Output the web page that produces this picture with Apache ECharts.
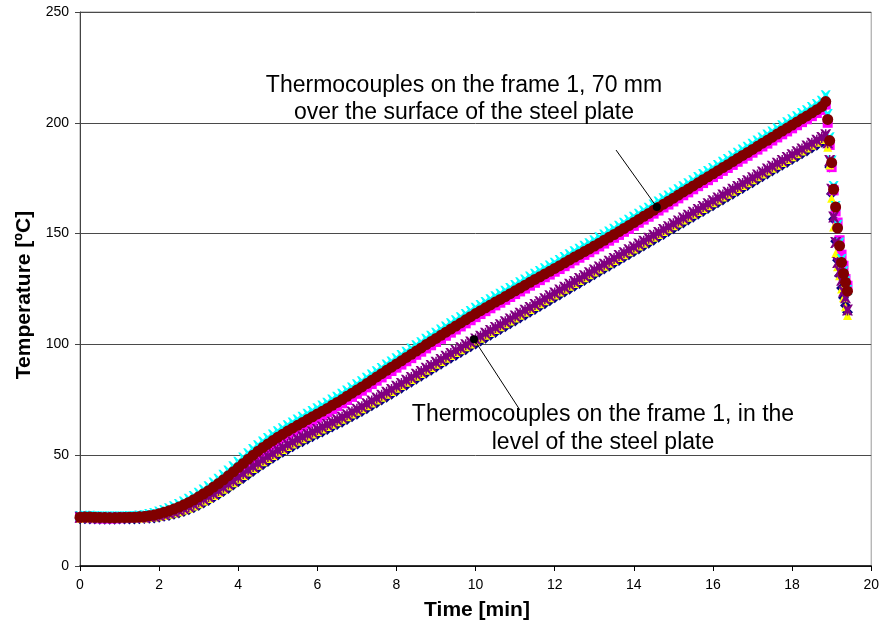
<!DOCTYPE html>
<html>
<head>
<meta charset="utf-8">
<title>Frame 1 thermocouples</title>
<script src="https://cdn.jsdelivr.net/npm/echarts@6/dist/echarts.min.js"></script>
<style>
  html, body { margin: 0; padding: 0; background: #fff; }
  #chart { width: 882px; height: 624px; }
</style>
</head>
<body>
<div id="chart"></div>
<script>
// Sample times [min] of the heating phase (one row per minute) and of the fast cooling at the end
const TIME = [
  0,0.125,0.25,0.375,0.5,0.625,0.75,0.875,
  1,1.125,1.25,1.375,1.5,1.625,1.75,1.875,
  2,2.125,2.25,2.375,2.5,2.625,2.75,2.875,
  3,3.125,3.25,3.375,3.5,3.625,3.75,3.875,
  4,4.125,4.25,4.375,4.5,4.625,4.75,4.875,
  5,5.125,5.25,5.375,5.5,5.625,5.75,5.875,
  6,6.125,6.25,6.375,6.5,6.625,6.75,6.875,
  7,7.125,7.25,7.375,7.5,7.625,7.75,7.875,
  8,8.125,8.25,8.375,8.5,8.625,8.75,8.875,
  9,9.125,9.25,9.375,9.5,9.625,9.75,9.875,
  10,10.125,10.25,10.375,10.5,10.625,10.75,10.875,
  11,11.125,11.25,11.375,11.5,11.625,11.75,11.875,
  12,12.125,12.25,12.375,12.5,12.625,12.75,12.875,
  13,13.125,13.25,13.375,13.5,13.625,13.75,13.875,
  14,14.125,14.25,14.375,14.5,14.625,14.75,14.875,
  15,15.125,15.25,15.375,15.5,15.625,15.75,15.875,
  16,16.125,16.25,16.375,16.5,16.625,16.75,16.875,
  17,17.125,17.25,17.375,17.5,17.625,17.75,17.875,
  18,18.125,18.25,18.375,18.5,18.625,18.75,18.85];
const DROP_TIME = [18.9,18.95,19.0,19.05,19.1,19.15,19.2,19.25,19.3,19.35,19.4];

// Thermocouples on the frame 1, 70 mm over the surface of the steel plate [°C]
const upperSquare = [
  21.7,21.7,21.6,21.6,21.5,21.5,21.5,21.5,
  21.6,21.6,21.7,21.7,21.8,21.9,22.2,22.5,
  23.0,23.5,24.1,24.8,25.6,26.5,27.5,28.6,
  29.8,31.1,32.5,34.0,35.6,37.3,39.0,40.8,
  42.6,44.5,46.3,48.1,49.9,51.6,53.2,54.7,
  56.3,57.8,59.2,60.5,61.8,63.0,64.4,65.6,
  66.9,68.1,69.4,70.8,72.1,73.4,74.9,76.3,
  77.7,79.1,80.6,82.1,83.6,85.1,86.6,88.0,
  89.5,90.9,92.4,93.8,95.3,96.7,98.2,99.6,
  101.1,102.5,103.9,105.3,106.7,108.1,109.5,110.9,
  112.3,113.7,115.0,116.3,117.6,118.8,120.1,121.4,
  122.7,123.9,125.2,126.5,127.8,129.0,130.3,131.5,
  132.8,134.0,135.3,136.6,137.9,139.1,140.4,141.6,
  142.9,144.2,145.5,146.8,148.1,149.4,150.8,152.1,
  153.5,154.9,156.3,157.6,159.0,160.4,161.8,163.1,
  164.5,165.9,167.3,168.6,170.0,171.4,172.8,174.1,
  175.5,176.9,178.3,179.6,181.0,182.4,183.8,185.1,
  186.5,187.9,189.3,190.6,192.0,193.4,194.8,196.1,
  197.5,198.9,200.3,201.6,203.0,204.4,205.8,208.2];
const upperSquareDrop = [200.0,190.0,180.0,169.5,160.0,155.0,147.0,140.5,135.5,129.5,126.5];

const upperCross = [
  22.6,22.7,22.7,22.6,22.5,22.5,22.4,22.4,
  22.5,22.5,22.6,22.6,22.8,23.0,23.5,23.9,
  24.6,25.3,26.1,27.0,28.0,29.1,30.3,31.6,
  33.0,34.5,36.0,37.7,39.4,41.2,43.1,45.0,
  47.0,49.0,50.9,52.8,54.5,56.2,57.8,59.3,
  60.8,62.2,63.5,64.8,66.1,67.3,68.7,69.9,
  71.2,72.4,73.7,75.1,76.4,77.7,79.2,80.6,
  82.0,83.4,84.9,86.4,87.9,89.4,90.9,92.3,
  93.8,95.2,96.7,98.1,99.6,101.0,102.5,103.9,
  105.3,106.7,108.1,109.5,110.9,112.3,113.7,115.1,
  116.5,117.8,119.1,120.4,121.7,122.9,124.2,125.5,
  126.8,128.0,129.3,130.6,131.9,133.1,134.4,135.6,
  136.9,138.1,139.4,140.7,142.0,143.2,144.5,145.7,
  147.0,148.3,149.6,150.9,152.2,153.5,154.9,156.2,
  157.6,159.0,160.4,161.7,163.1,164.5,165.9,167.2,
  168.6,170.0,171.4,172.7,174.1,175.5,176.9,178.2,
  179.6,181.0,182.4,183.7,185.1,186.5,187.9,189.2,
  190.6,192.0,193.4,194.7,196.1,197.5,198.9,200.2,
  201.6,203.0,204.4,205.7,207.1,208.5,209.9,212.4];
const upperCrossDrop = [204.0,193.5,183.0,171.5,162.5,154.0,146.0,138.5,133.0,128.5,124.5];

const upperCircle = [
  22.0,22.1,22.1,22.0,21.9,21.9,21.8,21.8,
  21.9,21.9,22.0,22.0,22.2,22.3,22.7,23.0,
  23.6,24.2,24.9,25.7,26.6,27.6,28.7,29.9,
  31.2,32.6,34.0,35.6,37.2,38.9,40.7,42.5,
  44.4,46.3,48.2,50.0,51.8,53.5,55.1,56.6,
  58.1,59.5,60.9,62.2,63.5,64.7,66.1,67.3,
  68.6,69.8,71.1,72.5,73.8,75.1,76.6,78.0,
  79.4,80.8,82.3,83.8,85.3,86.8,88.3,89.7,
  91.2,92.6,94.1,95.5,97.0,98.4,99.9,101.3,
  102.7,104.1,105.5,106.9,108.3,109.7,111.1,112.5,
  113.9,115.2,116.5,117.8,119.1,120.3,121.6,122.9,
  124.2,125.4,126.7,128.0,129.3,130.5,131.8,133.0,
  134.3,135.5,136.8,138.1,139.4,140.6,141.9,143.1,
  144.4,145.7,147.0,148.3,149.6,150.9,152.3,153.6,
  155.0,156.4,157.8,159.1,160.5,161.9,163.3,164.6,
  166.0,167.4,168.8,170.1,171.5,172.9,174.3,175.6,
  177.0,178.4,179.8,181.1,182.5,183.9,185.3,186.6,
  188.0,189.4,190.8,192.1,193.5,194.9,196.3,197.6,
  199.0,200.4,201.8,203.1,204.5,205.9,207.3,209.6];
const upperCircleDrop = [201.5,192.0,182.0,170.0,162.0,152.5,144.5,137.0,132.0,128.0,124.0];

// Thermocouples on the frame 1, in the level of the steel plate [°C]
const lowerDiamond = [
  21.3,21.3,21.2,21.2,21.1,21.1,21.1,21.1,
  21.2,21.2,21.2,21.2,21.3,21.4,21.5,21.7,
  22.0,22.4,22.8,23.3,23.9,24.6,25.4,26.3,
  27.3,28.4,29.6,30.9,32.2,33.6,35.0,36.5,
  38.0,39.5,41.1,42.7,44.2,45.7,47.2,48.6,
  50.0,51.3,52.6,53.8,55.0,56.1,57.2,58.3,
  59.4,60.5,61.6,62.7,63.8,64.9,66.1,67.3,
  68.5,69.7,71.0,72.3,73.6,74.9,76.2,77.5,
  78.9,80.2,81.6,82.9,84.3,85.6,87.0,88.3,
  89.7,91.0,92.4,93.7,95.0,96.3,97.6,98.9,
  100.2,101.5,102.8,104.1,105.4,106.7,108.0,109.3,
  110.6,111.9,113.2,114.5,115.8,117.1,118.4,119.7,
  121.0,122.3,123.6,124.9,126.2,127.5,128.8,130.1,
  131.4,132.7,134.0,135.3,136.6,137.9,139.2,140.5,
  141.8,143.1,144.4,145.7,147.0,148.3,149.6,150.9,
  152.2,153.5,154.8,156.1,157.4,158.7,160.0,161.3,
  162.6,163.9,165.2,166.5,167.8,169.1,170.4,171.7,
  173.0,174.3,175.6,176.9,178.2,179.5,180.8,182.1,
  183.4,184.7,186.0,187.3,188.6,189.9,191.2,192.4];
const lowerDiamondDrop = [190.0,180.0,168.0,156.5,146.5,138.0,131.0,125.5,121.0,117.5,114.5];

const lowerTriangle = [
  21.6,21.6,21.5,21.5,21.4,21.4,21.4,21.4,
  21.5,21.5,21.5,21.5,21.6,21.7,21.9,22.1,
  22.4,22.8,23.3,23.9,24.5,25.3,26.1,27.1,
  28.1,29.3,30.5,31.8,33.2,34.6,36.1,37.6,
  39.2,40.8,42.4,44.0,45.5,47.0,48.5,49.9,
  51.3,52.6,53.9,55.1,56.3,57.4,58.5,59.6,
  60.7,61.8,62.9,64.0,65.1,66.2,67.4,68.6,
  69.8,71.0,72.3,73.6,74.9,76.2,77.5,78.8,
  80.2,81.5,82.9,84.2,85.6,86.9,88.3,89.6,
  91.0,92.3,93.7,95.0,96.3,97.6,98.9,100.2,
  101.5,102.8,104.1,105.4,106.7,108.0,109.3,110.6,
  111.9,113.2,114.5,115.8,117.1,118.4,119.7,121.0,
  122.3,123.6,124.9,126.2,127.5,128.8,130.1,131.4,
  132.7,134.0,135.3,136.6,137.9,139.2,140.5,141.8,
  143.1,144.4,145.7,147.0,148.3,149.6,150.9,152.2,
  153.5,154.8,156.1,157.4,158.7,160.0,161.3,162.6,
  163.9,165.2,166.5,167.8,169.1,170.4,171.7,173.0,
  174.3,175.6,176.9,178.2,179.5,180.8,182.1,183.4,
  184.7,186.0,187.3,188.6,189.9,191.2,192.5,193.6];
const lowerTriangleDrop = [189.0,181.0,166.0,153.0,141.0,135.0,131.0,125.0,121.0,117.0,113.0];

const lowerStar = [
  22.0,22.0,21.9,21.9,21.8,21.8,21.8,21.8,
  21.9,21.9,21.9,21.9,22.0,22.1,22.3,22.6,
  22.9,23.4,23.9,24.5,25.2,26.0,26.9,27.9,
  29.0,30.2,31.4,32.7,34.1,35.5,37.0,38.5,
  40.1,41.7,43.3,44.9,46.4,47.9,49.4,50.8,
  52.2,53.5,54.8,56.0,57.2,58.3,59.4,60.5,
  61.6,62.7,63.8,64.9,66.0,67.1,68.3,69.5,
  70.7,71.9,73.2,74.5,75.8,77.1,78.4,79.7,
  81.1,82.4,83.8,85.1,86.5,87.8,89.2,90.5,
  91.9,93.2,94.6,95.9,97.2,98.5,99.8,101.1,
  102.4,103.7,105.0,106.3,107.6,108.9,110.2,111.5,
  112.8,114.1,115.4,116.7,118.0,119.3,120.6,121.9,
  123.2,124.5,125.8,127.1,128.4,129.7,131.0,132.3,
  133.6,134.9,136.2,137.5,138.8,140.1,141.4,142.7,
  144.0,145.3,146.6,147.9,149.2,150.5,151.8,153.1,
  154.4,155.7,157.0,158.3,159.6,160.9,162.2,163.5,
  164.8,166.1,167.4,168.7,170.0,171.3,172.6,173.9,
  175.2,176.5,177.8,179.1,180.4,181.7,183.0,184.3,
  185.6,186.9,188.2,189.5,190.8,192.1,193.4,194.6];
const lowerStarDrop = [191.0,183.0,170.0,157.5,146.0,137.0,133.0,129.0,124.0,121.0,115.5];

// Axis ticks
const X_TICKS = { min: 0, max: 20, step: 2 };
const Y_TICKS = { min: 0, max: 250, step: 50 };

const FONT = '"Liberation Sans", Arial, sans-serif';

// Marker shapes: a bold cross and an asterisk (cross with a vertical bar)
const CROSS = 'path://M0,0 L2,0 L5,3 L8,0 L10,0 L7,5 L10,10 L8,10 L5,7 L2,10 L0,10 L3,5 Z';
const STAR = 'path://M0,0 L2,0 L5,3 L8,0 L10,0 L7,5 L10,10 L8,10 L5,7 L2,10 L0,10 L3,5 Z M4.3,0 L5.7,0 L5.7,10 L4.3,10 Z';

function points(rise, drop) {
  return TIME.map((t, i) => [t, rise[i]]).concat(DROP_TIME.map((t, i) => [t, drop[i]]));
}

function scatter(name, rise, drop, symbol, size, color) {
  return {
    name, type: 'scatter', symbol, symbolSize: size,
    itemStyle: { color, opacity: 1 },
    data: points(rise, drop),
    silent: true, animation: false
  };
}

const chart = echarts.init(document.getElementById('chart'), null, { renderer: 'canvas' });

chart.setOption({
  backgroundColor: '#fff',
  animation: false,
  grid: { left: 80, right: 8, top: 12, bottom: 58, show: true, borderColor: '#9a9a9a', borderWidth: 1 },
  xAxis: {
    type: 'value', min: X_TICKS.min, max: X_TICKS.max, interval: X_TICKS.step,
    axisLine: { show: true, onZero: false, lineStyle: { color: '#000', width: 1.5 } },
    axisTick: { show: true, length: 5, lineStyle: { color: '#000' } },
    axisLabel: { color: '#000', fontFamily: FONT, fontSize: 14, margin: 12 },
    splitLine: { show: false }
  },
  yAxis: {
    type: 'value', min: Y_TICKS.min, max: Y_TICKS.max, interval: Y_TICKS.step,
    axisLine: { show: true, lineStyle: { color: '#444', width: 1 } },
    axisTick: { show: true, length: 5, lineStyle: { color: '#444' } },
    axisLabel: { color: '#000', fontFamily: FONT, fontSize: 14, margin: 11 },
    splitLine: { show: true, lineStyle: { color: '#4a4a4a', width: 1 } }
  },
  series: [
    scatter('Diamond', lowerDiamond, lowerDiamondDrop, 'diamond', 11, '#000080'),
    scatter('Square', upperSquare, upperSquareDrop, 'rect', 10, '#ff00ff'),
    scatter('Triangle', lowerTriangle, lowerTriangleDrop, 'triangle', 9, '#ffff00'),
    scatter('Cross', upperCross, upperCrossDrop, CROSS, 10, '#00ffff'),
    scatter('Star', lowerStar, lowerStarDrop, STAR, 11, '#800080'),
    scatter('Circle', upperCircle, upperCircleDrop, 'circle', 11, '#800000'),
    {
      type: 'line', silent: true, animation: false, z: 10,
      symbol: 'circle', symbolSize: 8, showSymbol: true,
      lineStyle: { color: '#000', width: 1 }, itemStyle: { color: '#000' },
      data: [{ value: [13.55, 187.7], symbol: 'none' }, { value: [14.58, 162.0] }]
    },
    {
      type: 'line', silent: true, animation: false, z: 10,
      symbol: 'circle', symbolSize: 8, showSymbol: true,
      lineStyle: { color: '#000', width: 1 }, itemStyle: { color: '#000' },
      data: [{ value: [9.96, 102.3] }, { value: [11.12, 70.4], symbol: 'none' }]
    }
  ],
  graphic: [
    {
      type: 'text', x: 464, y: 99.5, z: 20,
      style: {
        text: 'Thermocouples on the frame 1, 70 mm\nover the surface of the steel plate',
        font: '23px ' + FONT, fill: '#000', lineHeight: 27,
        align: 'center', verticalAlign: 'middle', textAlign: 'center', textVerticalAlign: 'middle'
      }
    },
    {
      type: 'text', x: 603, y: 429, z: 20,
      style: {
        text: 'Thermocouples on the frame 1, in the\nlevel of the steel plate',
        font: '23px ' + FONT, fill: '#000', lineHeight: 28,
        align: 'center', verticalAlign: 'middle', textAlign: 'center', textVerticalAlign: 'middle'
      }
    },
    {
      type: 'text', x: 477, y: 610, z: 20,
      style: {
        text: 'Time [min]', font: 'bold 21px ' + FONT, fill: '#000',
        align: 'center', verticalAlign: 'middle', textAlign: 'center', textVerticalAlign: 'middle'
      }
    },
    {
      type: 'text', x: 24, y: 295, rotation: Math.PI / 2, z: 20,
      style: {
        text: 'Temperature [ºC]', font: 'bold 21px ' + FONT, fill: '#000',
        align: 'center', verticalAlign: 'middle', textAlign: 'center', textVerticalAlign: 'middle'
      }
    }
  ]
});
</script>
</body>
</html>
